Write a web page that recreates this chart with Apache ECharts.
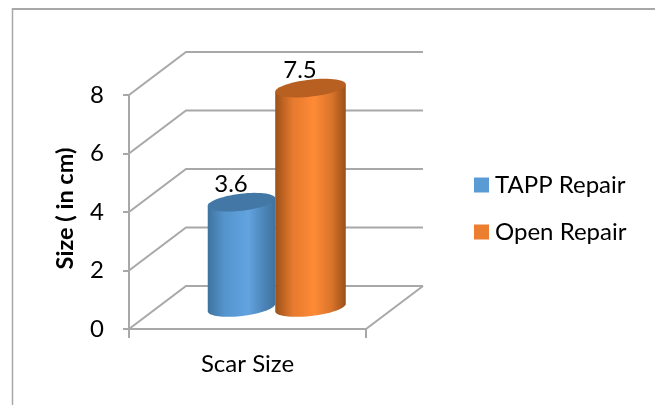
<!DOCTYPE html>
<html><head><meta charset="utf-8">
<style>html,body{margin:0;padding:0;background:#fff}#c{width:655px;height:405px}</style>
<script src="https://cdn.jsdelivr.net/npm/echarts@6/dist/echarts.min.js"></script>
</head><body><div id="c"></div>
<script>
const categories = ['Scar Size'];
const seriesNames = ['TAPP Repair', 'Open Repair'];
const tappValues = [3.6];
const openValues = [7.5];
const yTicks = [0, 2, 4, 6, 8];
const FONT = 'Lato, "Open Sans", sans-serif';
const DX = 57, DY = 43, HALF = 34.5, TILT = 4;
const GRAY = '#a8a8a8';
const palettes = [
  {top:'#4378a6', rx:34, stops:['#3f739f','#5595cd','#62a3e0','#4d86ba','#3f739f'], offs:[0,.25,.6,.82,1], legend:'#5b9bd5'},
  {top:'#b85f22', rx:35.5, stops:['#9c5119','#e67a2e','#ff8a36','#d9742b','#9a5018'], offs:[0,.25,.55,.8,1], legend:'#ed7d31'}
];
function ellipsePts(cx, cy, rx, ry, a0, a1, n){
  const pts = [];
  const t = Math.atan(TILT / rx);
  for (let i = 0; i <= n; i++){
    const a = a0 + (a1 - a0) * i / n;
    const x = rx * Math.cos(a), y = ry * Math.sin(a);
    pts.push([cx + x * Math.cos(t) + y * Math.sin(t), cy - x * Math.sin(t) + y * Math.cos(t)]);
  }
  return pts;
}
function cylinder(sIdx){
  return function(params, api){
    const p = api.coord([api.value(0), api.value(1)]);
    const b = api.coord([api.value(0), 0]);
    const side = sIdx === 0 ? -1 : 1;
    const pal = palettes[sIdx];
    const cx = p[0] + DX / 2 + side * HALF;
    const topY = p[1] - DY / 2, botY = b[1] - DY / 2;
    const rx = pal.rx, ry = 8.5;
    const body = ellipsePts(cx, topY, rx, ry, Math.PI, 2 * Math.PI, 1)
      .concat(ellipsePts(cx, botY, rx, ry, 0, Math.PI, 40));
    return {type:'group', children:[
      {type:'polygon', shape:{points:body}, style:{fill:{type:'linear',x:0,y:0,x2:1,y2:0,colorStops:
        pal.stops.map((c,i)=>({offset:pal.offs[i],color:c}))}}},
      {type:'polygon', shape:{points:ellipsePts(cx, topY, rx, ry, 0, 2 * Math.PI, 60)}, style:{fill:pal.top}},
      {type:'text', style:{text:String(api.value(1)), x:cx - 10.5, y:topY - 18, align:'center', verticalAlign:'middle',
        font:'24px ' + FONT, fill:'#000'}}
    ]};
  };
}
function wallLine(params, api){
  const p = api.coord([0, api.value(0)]);
  const xs = params.coordSys;
  const x0 = xs.x, x1 = xs.x + xs.width, y = p[1];
  const ls = {stroke:GRAY, lineWidth:2, fill:'none'};
  const kids = [
    {type:'polyline', shape:{points:[[x0,y],[x0+DX,y-DY],[x1+DX,y-DY]]}, style:ls}
  ];
  if (api.value(0) === 0) kids.push({type:'polyline', shape:{points:[[x1,y],[x1+DX,y-DY]]}, style:ls});
  return {type:'group', children:kids};
}
const chart = echarts.init(document.getElementById('c'), null, {renderer:'canvas'});
chart.setOption({
  animation:false,
  backgroundColor:'#fff',
  textStyle:{fontFamily:FONT},
  graphic:[
    {type:'line', silent:true, z:-10, shape:{x1:12,y1:9,x2:655,y2:9}, style:{stroke:GRAY,lineWidth:2}},
    {type:'line', silent:true, z:-10, shape:{x1:12.5,y1:8,x2:12.5,y2:405}, style:{stroke:GRAY,lineWidth:1.5}}
  ],
  grid:{left:129,right:289,top:95,bottom:76},
  legend:{left:474,top:173,padding:0,orient:'vertical',itemWidth:15,itemHeight:15,itemGap:23,icon:'rect',
    selectedMode:false,textStyle:{fontSize:24,fontFamily:FONT,color:'#000',padding:[0,0,0,1]},
    data:seriesNames},
  xAxis:{type:'category',data:categories,boundaryGap:true,
    axisLine:{lineStyle:{color:GRAY,width:2}},
    axisTick:{show:true,alignWithLabel:false,length:9,lineStyle:{color:GRAY,width:2}},
    axisLabel:{fontSize:24,color:'#000',margin:23,fontFamily:FONT}},
  yAxis:{type:'value',min:0,max:8,interval:2,name:'Size ( in cm)',nameLocation:'middle',nameGap:52,
    nameTextStyle:{fontSize:23.5,fontWeight:'bold',color:'#000',fontFamily:FONT,padding:[0,0,0,7]},
    splitLine:{show:false},
    axisLine:{show:true,lineStyle:{color:GRAY,width:2}},
    axisTick:{show:true,length:6,lineStyle:{color:GRAY,width:2}},
    axisLabel:{fontSize:24,color:'#000',margin:25,fontFamily:FONT,padding:[8,0,0,0]}},
  series:[
    {type:'custom',silent:true,renderItem:wallLine,data:yTicks.map(v=>[v]),encode:{y:0},z:1},
    {type:'custom',name:seriesNames[0],renderItem:cylinder(0),z:2,itemStyle:{color:palettes[0].legend},
      data:categories.map((c,i)=>[i,tappValues[i]]),encode:{x:0,y:1}},
    {type:'custom',name:seriesNames[1],renderItem:cylinder(1),z:3,itemStyle:{color:palettes[1].legend},
      data:categories.map((c,i)=>[i,openValues[i]]),encode:{x:0,y:1}}
  ]
});
</script></body></html>
